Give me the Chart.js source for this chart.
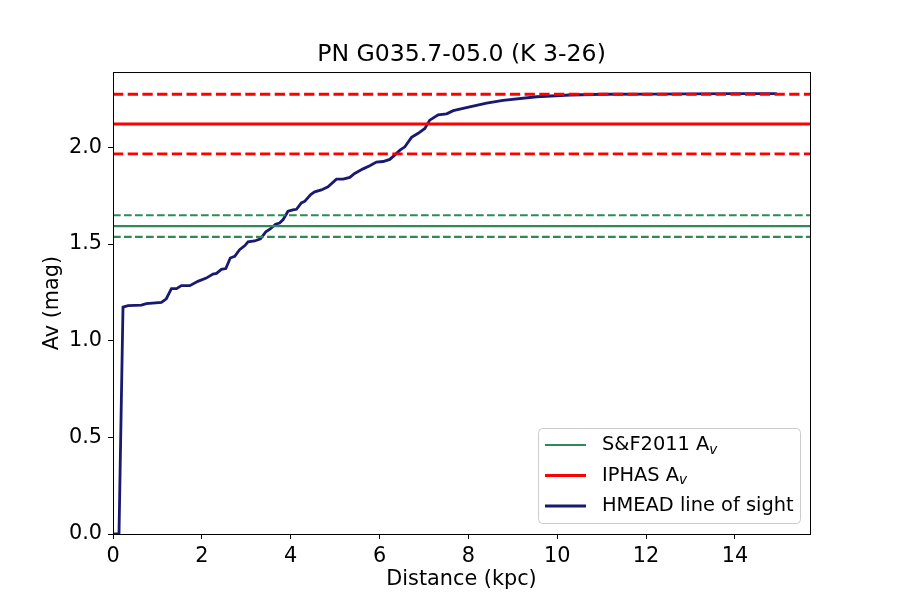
<!DOCTYPE html>
<html lang="en">
<head>
  <meta charset="UTF-8">
  <title>PN G035.7-05.0 (K 3-26)</title>
  <script src="https://cdn.jsdelivr.net/npm/chart.js"></script>
  <style>
    body { margin: 0; padding: 0; background: #fff; }
    #wrap { width: 900px; height: 600px; }
  </style>
</head>
<body>
  <div id="wrap"><canvas id="avChart" width="900" height="600"></canvas></div>

  <script>
    // HMEAD line of sight (distance in kpc, Av in mag)
    const distance = [0, 0.135, 0.225, 0.34, 0.64, 0.75, 1.09, 1.20, 1.315, 1.43, 1.54, 1.73, 1.91, 2.10,
      2.25, 2.33, 2.44, 2.54, 2.64, 2.74, 2.85, 2.97, 3.04, 3.19, 3.32, 3.44, 3.54, 3.66, 3.75, 3.83,
      3.94, 4.05, 4.13, 4.24, 4.32, 4.45, 4.54, 4.69, 4.84, 5.03, 5.18, 5.33, 5.44, 5.63, 5.78, 5.93,
      6.08, 6.23, 6.34, 6.46, 6.57, 6.72, 6.87, 7.02, 7.13, 7.32, 7.51, 7.66, 8.03, 8.41, 8.78, 9.54,
      10.29, 11.03, 12.09, 13.0, 14.0, 14.94];
    const avHmead = [0, 0, 1.174, 1.181, 1.184, 1.192, 1.198, 1.217, 1.269, 1.269, 1.285, 1.285, 1.307, 1.324,
      1.345, 1.348, 1.369, 1.373, 1.428, 1.437, 1.471, 1.492, 1.511, 1.516, 1.527, 1.563, 1.578, 1.603, 1.609, 1.627,
      1.670, 1.677, 1.680, 1.713, 1.722, 1.756, 1.770, 1.780, 1.796, 1.836, 1.836, 1.845, 1.865, 1.889, 1.905, 1.924,
      1.927, 1.938, 1.960, 1.986, 2.003, 2.052, 2.073, 2.098, 2.141, 2.169, 2.174, 2.190, 2.210, 2.229, 2.243, 2.262,
      2.271, 2.275, 2.276, 2.277, 2.278, 2.278];

    // reference extinctions: [value, error]
    const sfAv = [1.593, 0.056];
    const iphasAv = [2.121, 0.154];

    const xRange = [0, 15.69];
    const yRange = [0, 2.39];
    const seriesNames = ['S&F2011 A', 'IPHAS A', 'HMEAD line of sight'];
    const seriesSubs = ['v', 'v', ''];
    const seriesColors = ['#2e8b57', '#ff0000', '#191970'];

    const FONT = "'DejaVu Sans', sans-serif";

    function hline(v) {
      return [{ x: xRange[0], y: v }, { x: xRange[1], y: v }];
    }

    function lineSet(label, data, color, width, dash) {
      return {
        label: label, data: data, borderColor: color, backgroundColor: color,
        borderWidth: width, borderDash: dash || [], pointRadius: 0, tension: 0, fill: false
      };
    }

    const datasets = [
      lineSet(seriesNames[0], hline(sfAv[0]), seriesColors[0], 2.1),
      lineSet('_sf_hi', hline(sfAv[0] + sfAv[1]), seriesColors[0], 2.1, [7.7, 3.3]),
      lineSet('_sf_lo', hline(sfAv[0] - sfAv[1]), seriesColors[0], 2.1, [7.7, 3.3]),
      lineSet(seriesNames[1], hline(iphasAv[0]), seriesColors[1], 2.8),
      lineSet('_ip_hi', hline(iphasAv[0] + iphasAv[1]), seriesColors[1], 2.8, [10.3, 4.4]),
      lineSet('_ip_lo', hline(iphasAv[0] - iphasAv[1]), seriesColors[1], 2.8, [10.3, 4.4]),
      lineSet(seriesNames[2], distance.map((d, i) => ({ x: d, y: avHmead[i] })), seriesColors[2], 2.8)
    ];

    // frame + legend in the lower right corner, matplotlib style
    const framePlugin = {
      id: 'frameLegend',
      afterDatasetsDraw(chart) {
        const ctx = chart.ctx;
        const a = chart.chartArea;
        ctx.save();
        ctx.strokeStyle = '#000';
        ctx.lineWidth = 1;
        ctx.strokeRect(a.left + 0.5, a.top + 0.5, a.right - a.left, a.bottom - a.top);

        const bx = 538.5, by = 428.5, bw = 262, bh = 95, r = 4;
        ctx.beginPath();
        ctx.roundRect(bx, by, bw, bh, r);
        ctx.fillStyle = 'rgba(255,255,255,0.8)';
        ctx.fill();
        ctx.strokeStyle = '#cccccc';
        ctx.stroke();

        const rows = [445, 475.5, 506];
        seriesNames.forEach((name, i) => {
          const y = rows[i];
          ctx.strokeStyle = seriesColors[i];
          ctx.lineWidth = i === 0 ? 2.1 : 2.8;
          ctx.beginPath();
          ctx.moveTo(545, y);
          ctx.lineTo(586, y);
          ctx.stroke();
          ctx.fillStyle = '#000';
          ctx.font = '19.4px ' + FONT;
          ctx.textBaseline = 'middle';
          ctx.textAlign = 'left';
          ctx.fillText(name, 602, y);
          if (seriesSubs[i]) {
            const w = ctx.measureText(name).width;
            ctx.font = 'italic 13.6px ' + FONT;
            ctx.fillText(seriesSubs[i], 602 + w, y + 5);
          }
        });
        ctx.restore();
      }
    };

    new Chart(document.getElementById('avChart').getContext('2d'), {
      type: 'line',
      data: { datasets: datasets },
      options: {
        responsive: false,
        animation: false,
        layout: { padding: { left: 0, right: 90, top: 0, bottom: 0 } },
        plugins: {
          legend: { display: false },
          tooltip: { enabled: false },
          title: {
            display: true,
            fullSize: false,
            text: 'PN G035.7-05.0 (K 3-26)',
            color: '#000',
            font: { family: FONT, size: 23.6, weight: 'normal' },
            padding: { top: 40.8, bottom: 2.9 }
          }
        },
        scales: {
          x: {
            type: 'linear',
            min: xRange[0], max: xRange[1],
            afterFit(s) { s.height = 66; },
            border: { display: true, color: '#000', width: 1 },
            grid: { drawOnChartArea: false, drawTicks: true, tickLength: 5, color: '#000' },
            ticks: {
              stepSize: 2, includeBounds: false, padding: 5, color: '#000',
              font: { family: FONT, size: 20.8 },
              callback: v => v.toFixed(0)
            },
            title: {
              display: true, text: 'Distance (kpc)', color: '#000',
              font: { family: FONT, size: 20.8 }, padding: { top: 0, bottom: 7.5 }
            }
          },
          y: {
            type: 'linear',
            min: yRange[0], max: yRange[1],
            afterFit(s) { s.width = 113; },
            border: { display: true, color: '#000', width: 1 },
            grid: { drawOnChartArea: false, drawTicks: true, tickLength: 5, color: '#000' },
            ticks: {
              stepSize: 0.5, includeBounds: false, padding: 6, color: '#000',
              font: { family: FONT, size: 20.8 },
              callback: v => v.toFixed(1)
            },
            title: {
              display: true, text: 'Av (mag)', color: '#000',
              font: { family: FONT, size: 20.8 }, padding: { top: 40.5, bottom: 0 }
            }
          }
        }
      },
      plugins: [framePlugin]
    });
  </script>
</body>
</html>
